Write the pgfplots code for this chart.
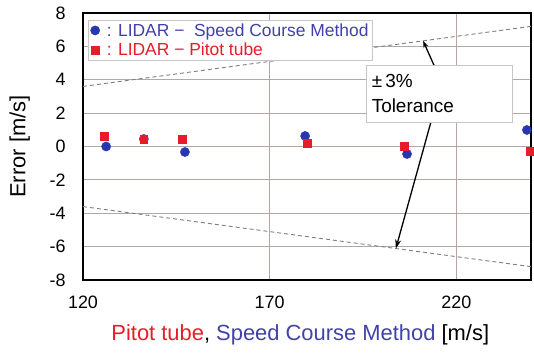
\documentclass[border=0pt]{standalone}
\usepackage{pgfplots}
\pgfplotsset{compat=1.18}
\usepackage{fontspec}
\setmainfont{Liberation Sans}
\usetikzlibrary{arrows.meta}

\definecolor{ptblue}{RGB}{40,55,175}
\definecolor{ptbluetext}{RGB}{65,65,170}
\definecolor{ptred}{RGB}{232,28,40}
\definecolor{gridc}{RGB}{182,165,165}
\definecolor{tolc}{RGB}{125,125,125}

\begin{document}
\begin{tikzpicture}
\begin{axis}[
  at={(0,0)}, anchor=south west,
  scale only axis,
  width=448bp, height=267bp,
  xmin=120, xmax=240, ymin=-8, ymax=8,
  xtick={120,170,220}, ytick={-8,-6,...,8},
  grid=major,
  major grid style={gridc, line width=0.8bp},
  major tick length=0pt,
  axis line style={black, line width=2bp},
  /pgf/number format/assume math mode=true,
  tick label style={font=\fontsize{18}{20}\selectfont},
  yticklabel style={xshift=-14bp},
  xticklabel style={yshift=-12bp},
  xlabel={\textcolor{ptred}{Pitot tube}, \textcolor{ptbluetext}{Speed Course Method} [m/s]},
  xlabel style={at={(axis description cs:0.485,-0.225)}, anchor=base, font=\fontsize{22}{24}\selectfont},
  ylabel={Error [m/s]},
  ylabel style={at={(axis description cs:-0.141,0.5)}, anchor=center, font=\fontsize{22}{24}\selectfont},
  legend cell align=left,
  legend image post style={xshift=2bp},
  legend style={at={(rel axis cs:0.012,0.975)}, anchor=north west,
    draw=gray!45, fill=white, font=\fontsize{17.5}{19}\selectfont,
    inner xsep=2bp, inner ysep=1.5bp, row sep=1.5bp},
]
% +/- 3 % tolerance band
\addplot[tolc, line width=0.9bp, dash pattern=on 4bp off 3bp, forget plot] coordinates {(120,3.6) (240,7.2)};
\addplot[tolc, line width=0.9bp, dash pattern=on 4bp off 3bp, forget plot] coordinates {(120,-3.6) (240,-7.2)};

% LIDAR - Speed Course Method
\addplot[only marks, mark=*, mark size=4.6bp, ptblue, mark options={draw=ptblue, fill=ptblue}]
  coordinates {(126.2,0.00) (136.3,0.45) (147.3,-0.33) (179.5,0.63) (206.8,-0.45) (238.9,0.99)};
\addlegendentry{\hspace{5bp}\textcolor{ptbluetext}{: LIDAR −\ \ Speed Course Method}}

% LIDAR - Pitot tube
\addplot[only marks, mark=square*, mark size=3.8bp, ptred, mark options={draw=ptred, fill=ptred}]
  coordinates {(125.6,0.63) (136.3,0.45) (146.5,0.45) (180.0,0.20) (206.0,0.03) (239.6,-0.27)};
\addlegendentry{\hspace{5bp}\textcolor{ptred}{: LIDAR − Pitot tube}}

% annotation
\draw[-{Stealth[length=7bp,width=5bp]}, line width=1.3bp] (axis cs:214.0,4.88) -- (axis cs:211.1,6.33);
\draw[-{Stealth[length=9bp,width=6bp]}, line width=1.3bp] (axis cs:213.2,1.47) -- (axis cs:203.8,-6.11);
\node[draw=gray!45, fill=white, minimum width=146bp, minimum height=57bp,
      text width=134bp, align=left, inner sep=3bp,
      font=\fontsize{19}{25}\selectfont]
  at (axis cs:215.3,3.18) {±\,3\%\\Tolerance};
\end{axis}
\pgfresetboundingbox
\path[use as bounding box] (-83bp,-74bp) rectangle (451bp,280bp);
\end{tikzpicture}
\end{document}
